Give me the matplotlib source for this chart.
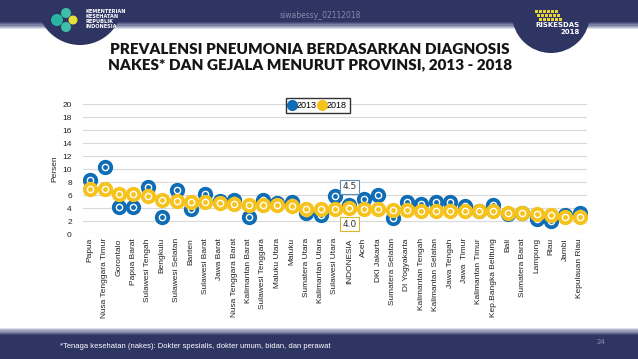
import numpy as np
import matplotlib.pyplot as plt
from matplotlib.patches import Rectangle, Circle
from matplotlib.lines import Line2D

# ================= DATA =================
provinces = [
    "Papua", "Nusa Tenggara Timur", "Gorontalo", "Papua Barat", "Sulawesi Tengah",
    "Bengkulu", "Sulawesi Selatan", "Banten", "Sulawesi Barat", "Jawa Barat",
    "Nusa Tenggara Barat", "Kalimantan Barat", "Sulawesi Tenggara", "Maluku Utara",
    "Maluku", "Sumatera Utara", "Kalimantan Utara", "Sulawesi Utara", "INDONESIA",
    "Aceh", "DKI Jakarta", "Sumatera Selatan", "DI Yogyakarta", "Kalimantan Tengah",
    "Kalimantan Selatan", "Jawa Tengah", "Jawa  Timur", "Kalimantan Timur",
    "Kep.Bangka Belitung", "Bali", "Sumatera Barat", "Lampung", "Riau", "Jambi",
    "Kepulauan Riau",
]
prev_2013 = [8.3, 10.3, 4.1, 4.2, 7.2, 2.7, 6.8, 3.8, 6.1, 5.1,
             5.3, 2.7, 5.3, 4.8, 5.0, 3.2, 3.0, 5.8, 4.5,
             5.4, 6.0, 2.5, 4.9, 4.7, 5.0, 5.0, 4.3, 3.5,
             4.5, 3.1, 3.2, 2.3, 2.0, 3.0, 3.2]
prev_2018 = [7.0, 6.9, 6.1, 6.1, 5.9, 5.3, 5.1, 4.9, 4.9, 4.8,
             4.7, 4.5, 4.4, 4.4, 4.3, 3.9, 3.9, 3.9, 4.0,
             3.9, 3.9, 3.7, 3.7, 3.6, 3.6, 3.6, 3.6, 3.6,
             3.5, 3.2, 3.2, 3.1, 3.0, 2.6, 2.6]
yticks = list(range(0, 21, 2))
series = ["2013", "2018"]

blue = "#0f6db5"
yellow = "#f6c21c"
navy = "#2e3563"

# ================= FIGURE / BACKGROUND =================
fig = plt.figure(figsize=(6.38, 3.59), dpi=100)
bg = fig.add_axes([0, 0, 1, 1], zorder=0)
bg.set_xlim(0, 638)
bg.set_ylim(359, 0)
bg.axis("off")

# header band
bg.add_patch(Rectangle((0, 0), 638, 22, color=navy, lw=0))
shades = ["#454c78", "#5d648c", "#7a80a3", "#989dba", "#b9bdd1", "#dcdee8"]
for i, c in enumerate(shades):
    bg.add_patch(Rectangle((0, 22 + i * 1.2), 638, 1.3, color=c, lw=0))
bg.add_patch(Circle((80, 2), 43, color=navy, lw=0))
bg.add_patch(Circle((551, 14), 39, color=navy, lw=0))

# footer band
for i, c in enumerate(shades[::-1]):
    bg.add_patch(Rectangle((0, 328 + i * 1.2), 638, 1.3, color=c, lw=0))
bg.add_patch(Rectangle((0, 335), 638, 24, color=navy, lw=0))

# logos (simplified)
bg.add_patch(Circle((57, 20), 6, color="#2bb5a0", lw=0))
bg.add_patch(Circle((66, 13), 5, color="#3ec1a8", lw=0))
bg.add_patch(Circle((66, 27), 5, color="#3ec1a8", lw=0))
bg.add_patch(Circle((73, 20), 4.5, color="#e9de3a", lw=0))
bg.text(85, 19, "KEMENTERIAN\nKESEHATAN\nREPUBLIK\nINDONESIA", color="white",
        fontsize=3.6, fontweight="bold", va="center", ha="left", linespacing=1.0)
for dx in range(6):
    for dy in range(3):
        bg.add_patch(Rectangle((535 + dx * 4 + dy * 2, 10 + dy * 4), 2.5, 2.5,
                               color="#e8d33a", lw=0))
bg.text(557, 25, "RISKESDAS", color="white", fontsize=5, fontweight="bold",
        ha="center", va="center")
bg.text(570, 32, "2018", color="white", fontsize=5, fontweight="bold",
        ha="center", va="center")
bg.text(320, 15, "siwabessy_02112018", color="#858bac", fontsize=5.5,
        ha="center", va="center")

# title
bg.text(310, 57, "PREVALENSI PNEUMONIA BERDASARKAN DIAGNOSIS\n"
        "NAKES* DAN GEJALA MENURUT PROVINSI, 2013 - 2018",
        color="#151515", fontsize=11, fontweight="heavy", family="Lato",
        ha="center", va="center", linespacing=1.15)

# footer text
bg.text(60, 347, "*Tenaga kesehatan (nakes): Dokter spesialis, dokter umum, bidan, dan perawat",
        color="white", fontsize=5.5, ha="left", va="center", family="Liberation Sans")
bg.text(601, 342, "24", color="#8a90b0", fontsize=5, ha="center", va="center")

# ================= CHART =================
ax = fig.add_axes([0.130, 0.348, 0.790, 0.362], zorder=2)
ax.patch.set_alpha(0)
x = np.arange(len(provinces))

for vals, col, z in [(prev_2013, blue, 3), (prev_2018, yellow, 4)]:
    ax.plot(x, vals, "o", ms=10, color=col, mec=col, zorder=z)
    ax.plot(x, vals, "o", ms=4.5, mfc=col, mec="white", mew=1.0, zorder=z)

ax.set_xlim(-0.5, len(provinces) - 0.5)
ax.set_ylim(0, 20)
ax.set_yticks(yticks)
ax.set_xticks(x)
ax.set_xticklabels(provinces, rotation=90, fontsize=6, family="Liberation Sans",
                   color="#222222")
ax.tick_params(axis="y", labelsize=6, colors="#222222", length=0, pad=8)
ax.tick_params(axis="x", length=0, pad=3)
for lbl in ax.get_yticklabels():
    lbl.set_family("Liberation Sans")
ax.grid(axis="y", color="#d9d9d9", lw=0.8)
ax.set_axisbelow(True)
for s in ax.spines.values():
    s.set_visible(False)
ax.set_ylabel("Persen", fontsize=6, family="Liberation Sans", color="#222222", labelpad=3)

# INDONESIA labels
idx = provinces.index("INDONESIA")
ax.annotate(f"{prev_2013[idx]:.1f}", (idx, prev_2013[idx]), xytext=(0, 13),
            textcoords="offset points", ha="center", va="center", fontsize=6.5,
            color="#333333", zorder=6,
            bbox=dict(boxstyle="square,pad=0.3", fc="white", ec="#5b8db5", lw=0.8))
ax.annotate(f"{prev_2018[idx]:.1f}", (idx, prev_2018[idx]), xytext=(0, -11.5),
            textcoords="offset points", ha="center", va="center", fontsize=6.5,
            color="#333333", zorder=6,
            bbox=dict(boxstyle="square,pad=0.3", fc="white", ec="#d9b530", lw=0.8))

# legend
handles = [Line2D([], [], ls="", marker="o", ms=7, color=c) for c in (blue, yellow)]
leg = ax.legend(handles, series, loc="upper center", bbox_to_anchor=(0.466, 1.045),
                ncol=2, fontsize=6.5, frameon=True, fancybox=False,
                handlelength=0.7, handletextpad=0.15, columnspacing=0.3,
                borderpad=0.3, borderaxespad=0)
leg.get_frame().set_edgecolor("black")
leg.get_frame().set_linewidth(1.0)
for t in leg.get_texts():
    t.set_family("Liberation Sans")

fig.savefig("out.png", dpi=100)
